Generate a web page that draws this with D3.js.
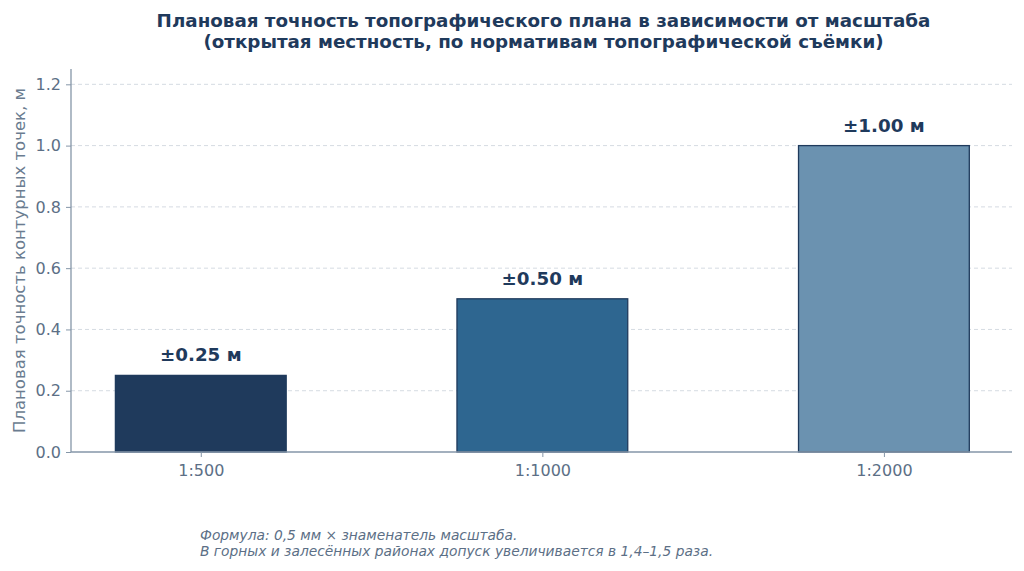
<!DOCTYPE html>
<html lang="ru">
<head>
<meta charset="UTF-8">
<title>Плановая точность</title>
<script src="https://d3js.org/d3.v7.min.js"></script>
<style>
    body { margin: 0; background: #fff; }
    svg { display: block; font-family: "DejaVu Sans", sans-serif; }
    .grid line { stroke: #d5dbe2; stroke-dasharray: 4,3; }
    .axis path, .axis line { stroke: #8596a8; }
</style>
</head>
<body>
<svg width="1024" height="571"></svg>
<script>
    // chart data
    const scales = ["1:500", "1:1000", "1:2000"];
    const accuracy = [0.25, 0.50, 1.00];
    const labels = ["±0.25 м", "±0.50 м", "±1.00 м"];
    const barColors = ["#1f3a5c", "#2e6690", "#6b92b0"];
    const yTicks = [0.0, 0.2, 0.4, 0.6, 0.8, 1.0, 1.2];

    const svg = d3.select("svg");
    const mLeft = 71, mRight = 1012, mTop = 69, mBottom = 452;

    const x = d3.scaleLinear().domain([-0.38, 2.375]).range([mLeft, mRight]);
    const y = d3.scaleLinear().domain([0, 1.25]).range([mBottom, mTop]);

    // gridlines
    svg.append("g").attr("class", "grid")
        .selectAll("line").data(yTicks.slice(1)).enter().append("line")
        .attr("x1", mLeft).attr("x2", mRight)
        .attr("y1", d => y(d)).attr("y2", d => y(d));

    // bars
    svg.selectAll(".bar").data(accuracy).enter().append("rect")
        .attr("class", "bar")
        .attr("x", (d, i) => x(i - 0.25))
        .attr("width", x(0.5) - x(0))
        .attr("y", d => y(d))
        .attr("height", d => y(0) - y(d))
        .attr("fill", (d, i) => barColors[i])
        .attr("stroke", "#1f3a5c")
        .attr("stroke-width", 1.3);

    // value labels
    svg.selectAll(".val").data(accuracy).enter().append("text")
        .attr("x", (d, i) => x(i))
        .attr("y", d => y(d) - 14)
        .attr("text-anchor", "middle")
        .attr("fill", "#1f3a5c")
        .attr("font-size", "18.3px")
        .attr("font-weight", "bold")
        .text((d, i) => labels[i]);

    // axes
    const yAxis = svg.append("g").attr("class", "axis")
        .attr("transform", `translate(${mLeft},0)`)
        .call(d3.axisLeft(y).tickValues(yTicks).tickFormat(d3.format(".1f")).tickSize(5).tickPadding(5).tickSizeOuter(0));
    yAxis.select(".domain").attr("d", `M0,${mTop}V${mBottom}`).attr("stroke-width", 1.3);

    const xAxis = svg.append("g").attr("class", "axis")
        .attr("transform", `translate(0,${mBottom})`)
        .call(d3.axisBottom(x).tickValues([0, 1, 2]).tickFormat(i => scales[i]).tickSize(5).tickPadding(8).tickSizeOuter(0));
    xAxis.select(".domain").attr("d", `M${mLeft},0H${mRight}`).attr("stroke-width", 1.3);

    svg.selectAll(".axis").attr("font-family", "DejaVu Sans, sans-serif").attr("font-size", 16);
    svg.selectAll(".axis text").attr("fill", "#5c6f86");

    // y label
    svg.append("text")
        .attr("transform", `translate(25,${(mTop + mBottom) / 2}) rotate(-90)`)
        .attr("text-anchor", "middle")
        .attr("fill", "#6a7c90")
        .attr("font-size", "16.5px")
        .text("Плановая точность контурных точек, м");

    // title
    const title = ["Плановая точность топографического плана в зависимости от масштаба",
                   "(открытая местность, по нормативам топографической съёмки)"];
    svg.selectAll(".title").data(title).enter().append("text")
        .attr("x", 543.5)
        .attr("y", (d, i) => 27 + i * 21)
        .attr("text-anchor", "middle")
        .attr("fill", "#1f3a5c")
        .attr("font-size", "18.3px")
        .attr("font-weight", "bold")
        .text(d => d);

    // footnote
    const notes = ["Формула: 0,5 мм × знаменатель масштаба.",
                   "В горных и залесённых районах допуск увеличивается в 1,4–1,5 раза."];
    svg.selectAll(".note").data(notes).enter().append("text")
        .attr("x", 200)
        .attr("y", (d, i) => 540 + i * 16)
        .attr("fill", "#5c6f86")
        .attr("font-size", "13.8px")
        .attr("font-style", "italic")
        .text(d => d);
</script>
</body>
</html>
